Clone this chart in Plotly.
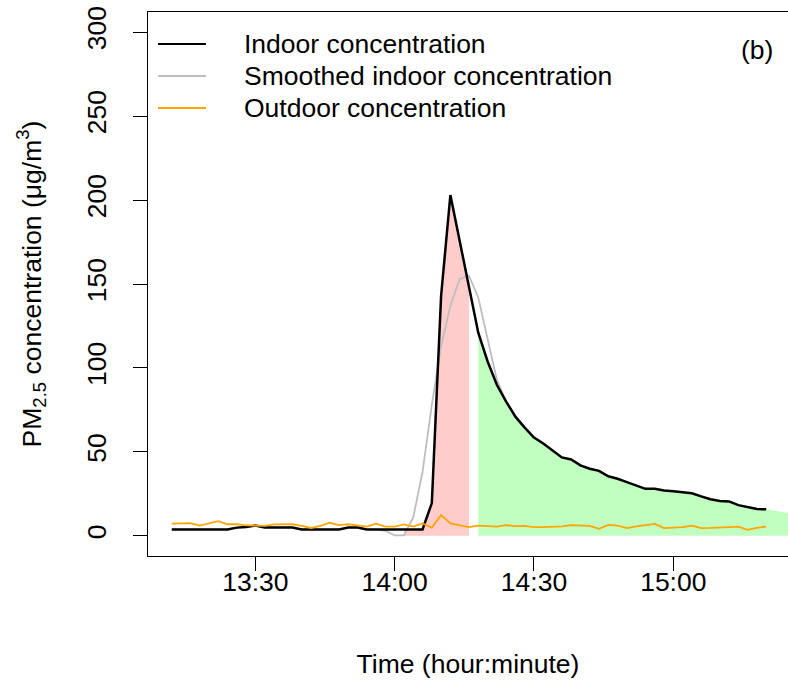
import pandas as pd
import plotly.graph_objects as go

# Sampling grid: one reading every 2 minutes, 13:12 - 15:20
time = pd.date_range("2023-01-01 13:12", "2023-01-01 15:20", freq="2min")

# PM2.5 (ug/m3)
indoor = [3.8, 3.8, 3.8, 3.8, 3.8, 3.8, 3.8, 4.9, 5.2, 6.1,
          5.0, 5.0, 5.0, 5.0, 3.8, 3.8, 3.8, 3.8, 3.8, 4.9,
          5.0, 3.8, 3.8, 3.8, 3.8, 3.8, 3.8, 3.8, 19.5, 143.0,
          203.0, 175.0, 147.0, 121.0, 104.0, 90.0, 80.0, 71.0, 64.5, 58.5,
          55.0, 51.0, 46.7, 45.5, 42.0, 40.0, 38.7, 35.5, 34.0, 32.0,
          30.0, 28.0, 28.0, 27.0, 26.5, 25.8, 25.4, 23.5, 21.8, 20.8,
          20.5, 18.3, 17.0, 16.0, 15.8]

smoothed = [3.8, 3.8, 3.8, 3.8, 3.8, 3.8, 3.8, 4.9, 5.2, 6.1,
            5.0, 5.0, 5.0, 5.0, 3.8, 3.8, 3.8, 3.8, 3.8, 4.9,
            5.0, 3.8, 3.8, 3.0, 0.3, 0.3, 11.0, 38.0, 78.0, 113.0,
            137.0, 153.0, 155.0, 142.0, 118.0, 93.0, 80.0, 71.0, 64.5, 58.5,
            55.0, 51.0, 46.7, 45.5, 42.0, 40.0, 38.7, 35.5, 34.0, 32.0,
            30.0, 28.0, 28.0, 27.0, 26.5, 25.8, 25.4, 23.5, 21.8, 20.8,
            20.5, 18.3, 17.0, 16.0, 15.8]

outdoor = [7.3, 7.5, 7.6, 6.1, 7.2, 8.7, 6.9, 7.0, 6.3, 6.2,
           5.9, 6.8, 7.0, 6.9, 6.0, 4.7, 6.0, 7.8, 6.4, 6.9,
           6.2, 5.5, 7.3, 5.5, 5.5, 6.8, 5.5, 7.4, 4.9, 12.4,
           7.4, 6.2, 5.2, 6.1, 6.0, 5.5, 6.4, 5.8, 6.0, 5.2,
           5.2, 5.3, 5.6, 6.4, 6.2, 6.0, 4.2, 6.5, 6.1, 4.6,
           5.6, 6.4, 7.1, 4.6, 4.9, 5.2, 6.1, 4.6, 4.7, 4.8,
           5.2, 5.5, 3.6, 4.8, 5.5]

series_names = ["Indoor concentration", "Smoothed indoor concentration",
                "Outdoor concentration"]
series_colors = ["#000000", "#BEBEBE", "#FFA500"]

# Shaded windows: rising phase and decay phase
rise_window = ("2023-01-01 14:02", "2023-01-01 14:16")
decay_start = "2023-01-01 14:18"
decay_tail_time = pd.Timestamp("2023-01-01 15:30")
decay_tail_value = 11.0

rise_fill = "#FFCCCC"
decay_fill = "#C1FFC1"

df = pd.DataFrame({"time": time, "indoor": indoor,
                   "smoothed": smoothed, "outdoor": outdoor})

rise = df[(df.time >= rise_window[0]) & (df.time <= rise_window[1])]
decay = df[df.time >= decay_start]
decay_x = list(decay.time) + [decay_tail_time]
decay_y = list(decay.indoor) + [decay_tail_value]

FONT = "Liberation Sans, Arial, sans-serif"
FS = 26.5

fig = go.Figure()

fig.add_trace(go.Scatter(x=rise.time, y=rise.indoor, mode="lines",
                         line=dict(width=0), fill="tozeroy",
                         fillcolor=rise_fill, showlegend=False,
                         hoverinfo="skip"))
fig.add_trace(go.Scatter(x=decay_x, y=decay_y, mode="lines",
                         line=dict(width=0), fill="tozeroy",
                         fillcolor=decay_fill, showlegend=False,
                         hoverinfo="skip"))

fig.add_trace(go.Scatter(x=df.time, y=df.smoothed, mode="lines",
                         name=series_names[1],
                         line=dict(color=series_colors[1], width=1.8),
                         showlegend=False))
fig.add_trace(go.Scatter(x=df.time, y=df.indoor, mode="lines",
                         name=series_names[0],
                         line=dict(color=series_colors[0], width=2.5),
                         showlegend=False))
fig.add_trace(go.Scatter(x=df.time, y=df.outdoor, mode="lines",
                         name=series_names[2],
                         line=dict(color=series_colors[2], width=1.8),
                         showlegend=False))

# Layout geometry in pixels
W, H = 788, 686
ML, MR, MT, MB = 148, 0, 12, 130
PW, PH = W - ML - MR, H - MT - MB


def px_x(p):
    return (p - ML) / PW


def px_y(p):
    return (H - MB - p) / PH


# Legend drawn as key lines plus labels
legend_rows = [44, 76, 108]
shapes = []
annotations = []
for name, color, row in zip(series_names, series_colors, legend_rows):
    shapes.append(dict(type="line", xref="paper", yref="paper",
                       x0=px_x(158), x1=px_x(206), y0=px_y(row), y1=px_y(row),
                       line=dict(color=color, width=1.8)))
    annotations.append(dict(xref="paper", yref="paper", x=px_x(242), y=px_y(row),
                            xanchor="left", yanchor="middle", showarrow=False,
                            text=name, font=dict(family=FONT, size=FS, color="black")))

annotations.append(dict(xref="paper", yref="paper", x=px_x(775), y=px_y(50),
                        xanchor="right", yanchor="middle", showarrow=False,
                        text="(b)", font=dict(family=FONT, size=FS, color="black")))

fig.update_layout(
    width=W, height=H,
    margin=dict(l=ML, r=MR, t=MT, b=MB),
    plot_bgcolor="white", paper_bgcolor="white",
    font=dict(family=FONT, size=FS, color="black"),
    showlegend=False,
    shapes=shapes,
    annotations=annotations,
)

fig.update_xaxes(
    range=["2023-01-01 13:06:53", "2023-01-01 15:24:42"],
    tickvals=["2023-01-01 13:30", "2023-01-01 14:00",
              "2023-01-01 14:30", "2023-01-01 15:00"],
    ticktext=["13:30", "14:00", "14:30", "15:00"],
    ticks="outside", ticklen=14, tickwidth=1, tickcolor="black",
    ticklabelstandoff=-12,
    showline=True, mirror=True, linecolor="black", linewidth=1,
    showgrid=False, zeroline=False,
    title=dict(text="Time (hour:minute)", standoff=58,
               font=dict(family=FONT, size=FS)),
)

fig.update_yaxes(
    range=[-12, 312],
    tickvals=[0, 50, 100, 150, 200, 250, 300],
    tickangle=-90,
    ticks="outside", ticklen=14, tickwidth=1, tickcolor="black",
    ticklabelstandoff=16,
    showline=True, mirror=True, linecolor="black", linewidth=1,
    showgrid=False, zeroline=False,
    title=dict(text="PM<sub>2.5</sub> concentration (μg/m<sup>3</sup>)",
               standoff=33, font=dict(family=FONT, size=FS)),
)

fig.write_html("out.html")
